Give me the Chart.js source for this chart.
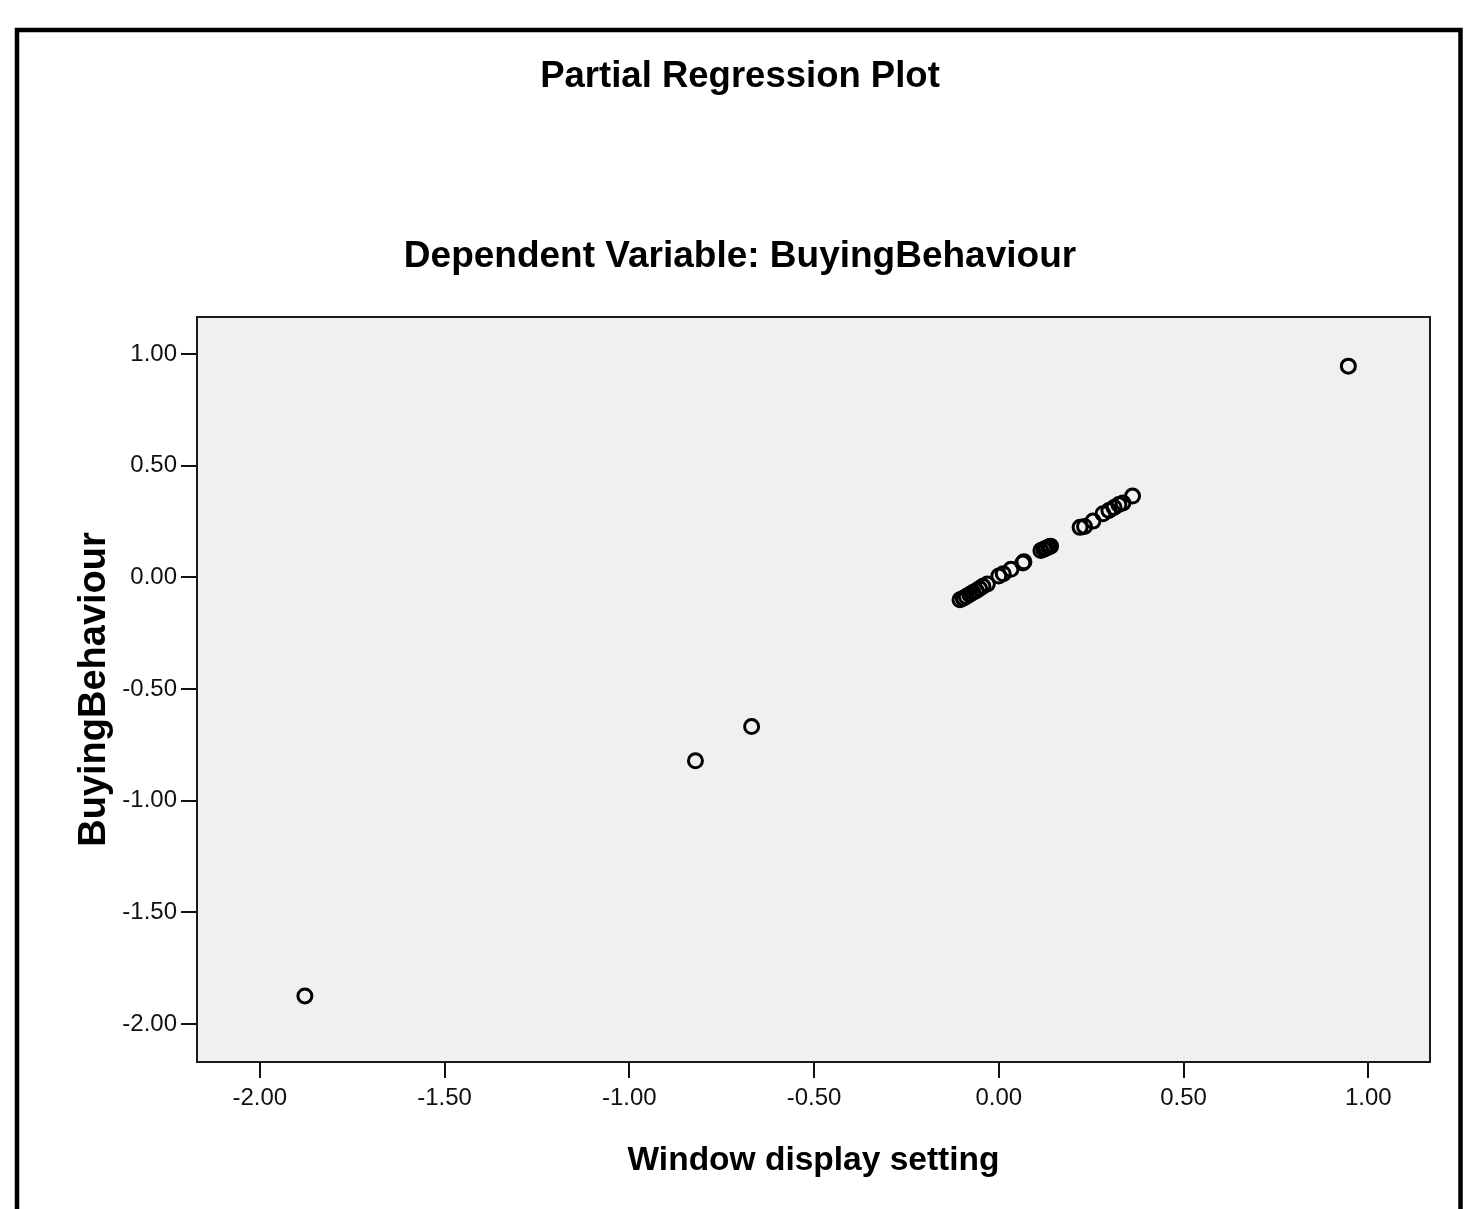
<!DOCTYPE html>
<html>
<head>
<meta charset="utf-8">
<script src="https://cdn.jsdelivr.net/npm/chart.js@4/dist/chart.umd.min.js"></script>
<style>
  html, body { margin: 0; padding: 0; background: #fff; }
  #wrap { position: relative; width: 1465px; height: 1209px; overflow: hidden; }
</style>
</head>
<body>
<div id="wrap"><canvas id="c" width="1465" height="1209"></canvas></div>
<script>
// ---- data ----
const chartTitle = "Partial Regression Plot";
const chartSubtitle = "Dependent Variable: BuyingBehaviour";
const xAxisTitle = "Window display setting";
const yAxisTitle = "BuyingBehaviour";
const xValues = [-1.878, -0.821, -0.669, 0.946,
  -0.105, -0.096, -0.088, -0.079, -0.070, -0.061, -0.052, -0.043, -0.031, 0.000, 0.012, 0.033, 0.065, 0.068,
  0.114, 0.122, 0.128, 0.135, 0.140, 0.220, 0.232, 0.255, 0.282, 0.298, 0.312, 0.325, 0.336, 0.362];
const yValues = [-1.874, -0.821, -0.668, 0.946,
  -0.100, -0.093, -0.086, -0.077, -0.068, -0.060, -0.050, -0.040, -0.030, 0.006, 0.016, 0.036, 0.064, 0.070,
  0.120, 0.126, 0.130, 0.136, 0.140, 0.224, 0.228, 0.252, 0.285, 0.300, 0.313, 0.326, 0.333, 0.364];
const xTicks = [-2.0, -1.5, -1.0, -0.5, 0.0, 0.5, 1.0];
const yTicks = [-2.0, -1.5, -1.0, -0.5, 0.0, 0.5, 1.0];

const points = xValues.map((x, i) => ({ x: x, y: yValues[i] }));
const FONT = "'Liberation Sans', Arial, sans-serif";

const decor = {
  id: 'decor',
  beforeDraw(chart) {
    const { ctx, chartArea: a } = chart;
    ctx.save();
    ctx.fillStyle = '#f0f0f0';
    ctx.fillRect(a.left, a.top, a.right - a.left, a.bottom - a.top);
    ctx.restore();
  },
  afterDraw(chart) {
    const { ctx, chartArea: a } = chart;
    ctx.save();
    ctx.strokeStyle = '#1a1a1a';
    ctx.lineWidth = 2;
    ctx.strokeRect(a.left, a.top, a.right - a.left, a.bottom - a.top);
    // outer frame
    ctx.strokeStyle = '#000';
    ctx.lineWidth = 4.5;
    ctx.strokeRect(17, 30, 1443.5, 1220);
    // titles
    ctx.fillStyle = '#000';
    ctx.textAlign = 'center';
    ctx.textBaseline = 'alphabetic';
    ctx.font = "bold 36.5px " + FONT;
    ctx.fillText(chartTitle, 740, 87);
    ctx.font = "bold 37px " + FONT;
    ctx.fillText(chartSubtitle, 740, 267);
    ctx.restore();
  }
};

new Chart(document.getElementById('c'), {
  type: 'scatter',
  data: {
    datasets: [{
      data: points,
      pointStyle: 'circle',
      pointRadius: 7,
      pointHoverRadius: 7,
      pointBorderWidth: 3,
      pointBorderColor: '#000',
      pointBackgroundColor: 'rgba(0,0,0,0)'
    }]
  },
  options: {
    responsive: false,
    animation: false,
    layout: { padding: { top: 317, left: 0, right: 35, bottom: 0 } },
    plugins: { legend: { display: false }, tooltip: { enabled: false } },
    scales: {
      x: {
        type: 'linear',
        min: -2.17, max: 1.167,
        afterBuildTicks: s => { s.ticks = xTicks.map(v => ({ value: v })); },
        afterFit: s => { s.height = 147; },
        ticks: {
          includeBounds: false,
          color: '#111',
          font: { family: FONT, size: 24 },
          padding: 6,
          maxRotation: 0,
          callback: v => Number(v).toFixed(2)
        },
        grid: { drawOnChartArea: false, drawTicks: true, tickLength: 16, color: '#111', lineWidth: 2 },
        border: { display: true, color: '#111', width: 2 },
        title: { display: true, text: xAxisTitle, color: '#000', font: { family: FONT, size: 33.5, weight: 'bold' }, padding: { top: 0, bottom: 28 } }
      },
      y: {
        type: 'linear',
        min: -2.17, max: 1.166,
        afterBuildTicks: s => { s.ticks = yTicks.map(v => ({ value: v })); },
        afterFit: s => { s.width = 197; },
        ticks: {
          includeBounds: false,
          color: '#111',
          font: { family: FONT, size: 24 },
          padding: 4,
          callback: v => Number(v).toFixed(2)
        },
        grid: { drawOnChartArea: false, drawTicks: true, tickLength: 16, color: '#111', lineWidth: 2 },
        border: { display: true, color: '#111', width: 2 },
        title: { display: true, text: yAxisTitle, color: '#000', font: { family: FONT, size: 38, weight: 'bold' }, padding: { top: 72, bottom: 0 } }
      }
    }
  },
  plugins: [decor]
});
</script>
</body>
</html>
